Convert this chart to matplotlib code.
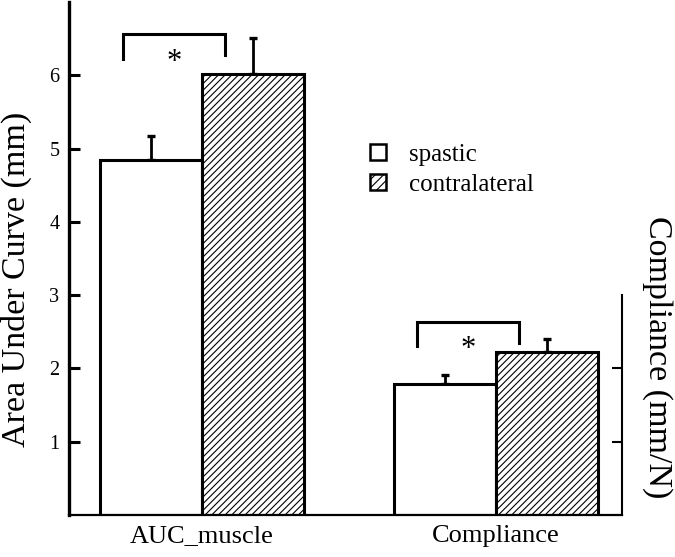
import numpy as np
import matplotlib
matplotlib.use('Agg')
import matplotlib.pyplot as plt
from matplotlib.patches import Patch

plt.rcParams['font.family'] = ['Liberation Serif', 'DejaVu Serif']
plt.rcParams['hatch.linewidth'] = 0.8

# данные
groups = ['AUC_muscle', 'Compliance']
spastic = [4.84, 1.79]
spastic_err = [0.33, 0.12]
contra = [6.02, 2.22]
contra_err = [0.49, 0.18]
# скобки значимости: (низ левой ножки, низ правой ножки, верх)
brackets = [(6.22, 6.27, 6.57), (2.31, 2.35, 2.64)]
star_y = [6.22, 2.30]

fig = plt.figure(figsize=(6.75, 5.57), dpi=100)
ax = fig.add_axes([69 / 675, 1 - 515 / 557, 553 / 675, 513 / 557])

x = np.arange(len(groups))
w = 0.347
lw = 2.2

ax.bar(x - w / 2, spastic, w, color='white', edgecolor='black', linewidth=lw, zorder=2)
ax.bar(x + w / 2, contra, w, color='white', edgecolor='black', linewidth=lw, hatch='/////', zorder=2)
ax.errorbar(x - w / 2, spastic, yerr=[np.zeros(2), spastic_err], fmt='none', ecolor='black',
            elinewidth=2.0, capsize=3.2, capthick=2.4, zorder=1)
ax.errorbar(x + w / 2, contra, yerr=[np.zeros(2), contra_err], fmt='none', ecolor='black',
            elinewidth=2.0, capsize=3.2, capthick=2.4, zorder=1)

for i, (l, r, t) in enumerate(brackets):
    xl = x[i] - w * 0.775
    xr = x[i] + w * 0.23
    ax.plot([xl, xl, xr, xr], [l, t, t, r], color='black', lw=2.2, solid_joinstyle='miter')
    ax.text((xl + xr) / 2, star_y[i], '*', ha='center', va='center_baseline', fontsize=22)

ax.set_xlim(-0.452, 1.429)
ax.set_ylim(0, 7)
ax.set_yticks([1, 2, 3, 4, 5, 6])
ax.set_xticks(x)
ax.set_xticklabels(groups, fontsize=19)
ax.tick_params(axis='y', direction='in', length=8, width=2.2, labelsize=14.5, pad=7)
ax.tick_params(axis='x', length=0, pad=7)
ax.spines['top'].set_visible(False)
ax.spines['right'].set_visible(False)
ax.spines['left'].set_linewidth(2.4)
ax.spines['bottom'].set_linewidth(1.6)
fig.text(16 / 675, 1 - 279 / 557, 'Area Under Curve (mm)', rotation=90,
         ha='center', va='center', fontsize=24.5)

# правая ось
ax2 = ax.twinx()
ax2.set_ylim(0, 7)
ax2.spines['top'].set_visible(False)
ax2.spines['left'].set_visible(False)
ax2.spines['bottom'].set_visible(False)
ax2.spines['right'].set_bounds(0, 3)
ax2.spines['right'].set_linewidth(1.5)
ax2.set_yticks([1, 2])
ax2.set_yticklabels([])
ax2.tick_params(axis='y', direction='in', length=7, width=1.5)
fig.text(657 / 675, 1 - 357 / 557, 'Compliance (mm/N)', rotation=-90,
         ha='center', va='center', fontsize=24.5)

handles = [Patch(facecolor='white', edgecolor='black', linewidth=1.8),
           Patch(facecolor='white', edgecolor='black', linewidth=1.8, hatch='////')]
ax.legend(handles, ['spastic', 'contralateral'], loc='upper left',
          bbox_to_anchor=(365 / 675, 1 - 139 / 557), bbox_transform=fig.transFigure,
          frameon=False, fontsize=18, handlelength=0.62, handleheight=0.62, handletextpad=0.95,
          labelspacing=0.3, borderpad=0.2, borderaxespad=0)

plt.savefig('out.png', dpi=100)
